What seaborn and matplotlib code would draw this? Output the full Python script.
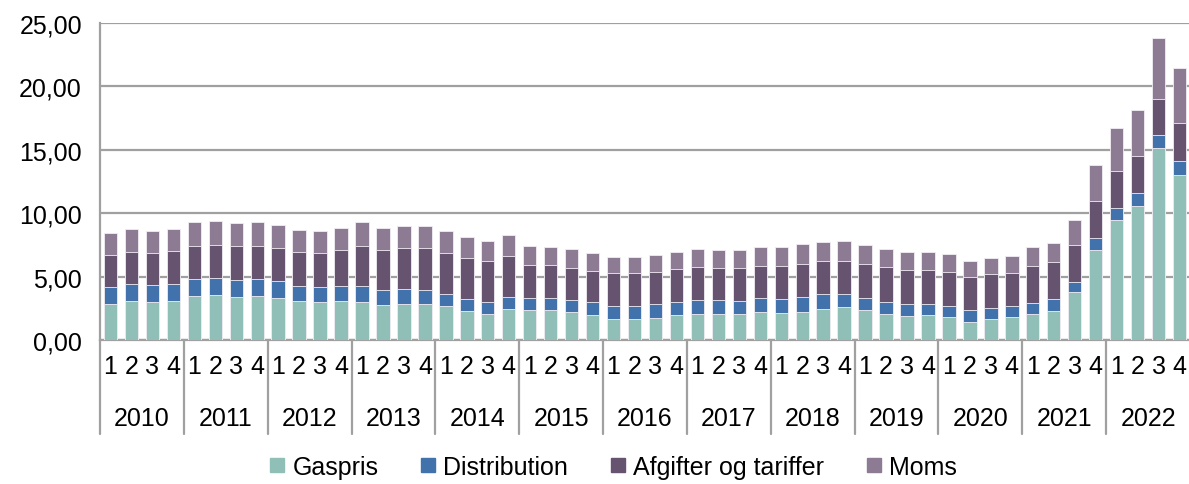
import numpy as np
import pandas as pd
import matplotlib
matplotlib.use("Agg")
import matplotlib.pyplot as plt
import matplotlib.transforms as mtransforms
from matplotlib.lines import Line2D
import seaborn as sns

# Gas price components per quarter, 2010 Q1 - 2022 Q4
years = [str(y) for y in range(2010, 2023)]
quarters = ["1", "2", "3", "4"]

gaspris = [2.84, 3.08, 3.00, 3.10, 3.45, 3.52, 3.42, 3.47, 3.31, 3.08, 2.97, 3.08,
           3.02, 2.74, 2.82, 2.86, 2.70, 2.31, 2.05, 2.47, 2.37, 2.37, 2.18, 1.97,
           1.65, 1.66, 1.76, 1.95, 2.07, 2.05, 2.05, 2.21, 2.09, 2.23, 2.47, 2.60,
           2.34, 2.05, 1.92, 1.95, 1.79, 1.45, 1.63, 1.79, 2.05, 2.27, 3.75, 7.13,
           9.47, 10.59, 15.14, 13.03]
distribution = [1.34, 1.31, 1.31, 1.32, 1.36, 1.34, 1.34, 1.34, 1.34, 1.20, 1.21, 1.20,
                1.24, 1.18, 1.18, 1.11, 0.92, 0.90, 0.92, 0.89, 0.97, 0.94, 0.97, 1.00,
                1.01, 1.00, 1.05, 1.02, 1.08, 1.10, 1.05, 1.10, 1.13, 1.16, 1.13, 1.00,
                0.94, 0.92, 0.89, 0.86, 0.87, 0.89, 0.87, 0.89, 0.87, 0.93, 0.84, 0.90,
                0.93, 0.98, 0.99, 1.05]
afgifter = [2.52, 2.57, 2.57, 2.62, 2.63, 2.66, 2.68, 2.63, 2.63, 2.68, 2.70, 2.79,
            3.18, 3.20, 3.23, 3.26, 3.26, 3.28, 3.28, 3.24, 2.55, 2.58, 2.55, 2.50,
            2.62, 2.62, 2.55, 2.60, 2.58, 2.55, 2.60, 2.55, 2.64, 2.63, 2.60, 2.65,
            2.74, 2.81, 2.73, 2.73, 2.73, 2.65, 2.71, 2.63, 2.94, 2.95, 2.94, 2.97,
            2.94, 2.91, 2.90, 3.04]
moms = [1.74, 1.77, 1.74, 1.74, 1.89, 1.86, 1.81, 1.89, 1.81, 1.72, 1.72, 1.74,
        1.84, 1.74, 1.73, 1.76, 1.70, 1.61, 1.56, 1.68, 1.49, 1.47, 1.48, 1.41,
        1.29, 1.29, 1.34, 1.34, 1.42, 1.40, 1.37, 1.47, 1.45, 1.52, 1.53, 1.53,
        1.50, 1.40, 1.37, 1.42, 1.38, 1.24, 1.28, 1.34, 1.45, 1.49, 1.94, 2.80,
        3.34, 3.62, 4.80, 4.33]

series_names = ["Gaspris", "Distribution", "Afgifter og tariffer", "Moms"]
colors = ["#8fbfb6", "#4272ac", "#66536f", "#8c7b93"]

periods = [f"{y}-{q}" for y in years for q in quarters]
df = pd.DataFrame({"periode": periods, "Gaspris": gaspris, "Distribution": distribution,
                   "Afgifter og tariffer": afgifter, "Moms": moms})
# cumulative tops for the stacked look
cum = df[series_names].cumsum(axis=1)

sns.set_style("white")
plt.rcParams["font.family"] = ["Liberation Sans", "DejaVu Sans"]
plt.rcParams["text.color"] = "black"
plt.rcParams["xtick.color"] = "black"
plt.rcParams["ytick.color"] = "black"
grey = "#a0a0a0"
fs = 18

fig = plt.figure(figsize=(11.89, 4.85), dpi=100)
ax = fig.add_axes([100 / 1189, 144 / 485, 1090 / 1189, 317 / 485])

# draw from the top segment down so each lower layer overlays the one above
for name, col in reversed(list(zip(series_names, colors))):
    sns.barplot(x=df["periode"], y=cum[name], color=col, width=0.64, ax=ax,
                edgecolor="#f2eef4", linewidth=0.6, zorder=3, saturation=1)

ax.set_ylim(0, 25)
ax.set_xlim(-0.5, len(periods) - 0.5)
ax.set_yticks(np.arange(0, 26, 5))
ax.set_yticklabels([f"{v:.2f}".replace(".", ",") for v in np.arange(0, 26, 5)], fontsize=fs)
ax.yaxis.grid(True, color=grey, linewidth=1.6, zorder=0)
ax.set_axisbelow(True)
ax.set_xlabel("")
ax.set_ylabel("")

ax.set_xticks(range(len(periods)))
ax.set_xticklabels(quarters * len(years), fontsize=fs)
ax.tick_params(axis="x", length=0, pad=10)
ax.tick_params(axis="y", length=0, pad=13)

for side in ["top", "right"]:
    ax.spines[side].set_visible(False)
for side in ["left", "bottom"]:
    ax.spines[side].set_color(grey)
    ax.spines[side].set_linewidth(1.6)

# year separators and year labels below the quarter labels
trans = mtransforms.blended_transform_factory(ax.transData, ax.transAxes)
for i in range(len(years) + 1):
    ax.plot([i * 4 - 0.5, i * 4 - 0.5], [0, -0.297], transform=trans, color=grey,
            linewidth=1.6, clip_on=False)
for i, y in enumerate(years):
    ax.text(i * 4 + 1.5, -0.246, y, transform=trans, ha="center", va="center", fontsize=fs)

handles = [Line2D([], [], marker="s", linestyle="", markersize=10, color=c) for c in colors]
fig.legend(handles, series_names, loc="center", bbox_to_anchor=(611 / 1189, 17 / 485),
           ncol=4, frameon=False, fontsize=fs, handletextpad=0.1, columnspacing=1.5,
           handlelength=1.0)

fig.savefig("out.png", dpi=100)
